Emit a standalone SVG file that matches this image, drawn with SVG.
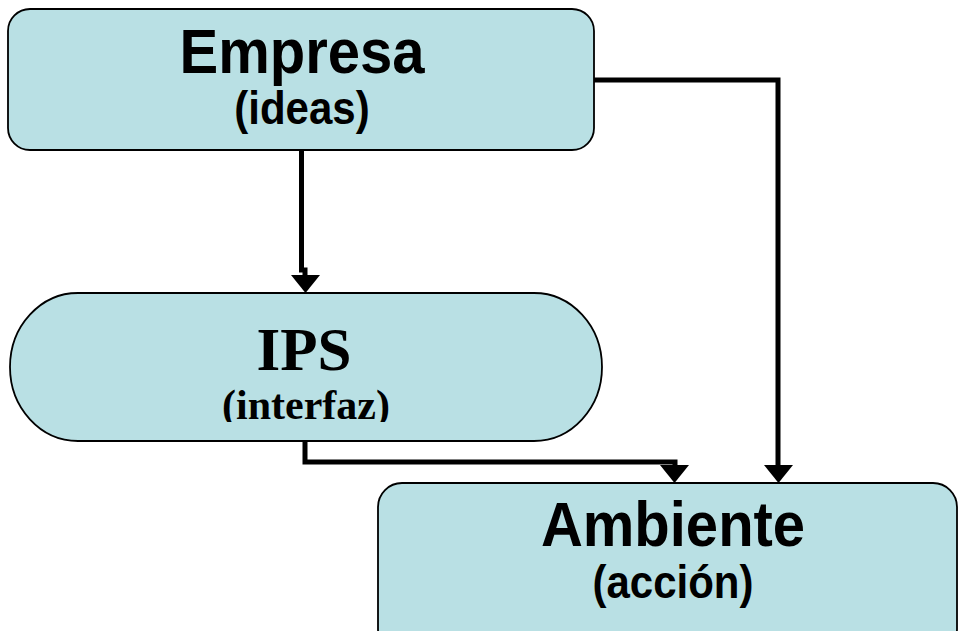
<svg xmlns="http://www.w3.org/2000/svg" width="959" height="631" viewBox="0 0 959 631">
<defs>
<style>
.box{fill:#B9E0E4;stroke:#000;stroke-width:1.8}
.wire{fill:none;stroke:#000;stroke-width:5}
.head{fill:#000}
.sans{font-family:"Liberation Sans",Arial,sans-serif;font-weight:bold;text-anchor:middle;fill:#000}
.serif{font-family:"Liberation Serif","Times New Roman",serif;font-weight:bold;text-anchor:middle;fill:#000}
</style>
<clipPath id="ipsclip"><rect x="0" y="280" width="620" height="142"/></clipPath>
</defs>
<rect width="959" height="631" fill="#fff"/>
<g id="connectors">
<polyline class="wire" points="301.5,150 301.5,270 305,270 305,278"/>
<polygon class="head" points="291,275 320,275 305.5,293"/>
<polyline class="wire" points="594,80 778,80 778,468"/>
<polygon class="head" points="764,465 793,465 778.5,483"/>
<polyline class="wire" points="305,441 305,462 675,462 675,468"/>
<polygon class="head" points="660,465 689,465 674.5,483"/>
</g>
<g id="empresa">
<rect class="box" x="8" y="9" width="586" height="141" rx="22"/>
<text class="sans" transform="translate(302,73) scale(1,1.08)" font-size="58">Empresa</text>
<text class="sans" transform="translate(302,124) scale(1,1.08)" font-size="42">(ideas)</text>
</g>
<g id="ips">
<rect class="box" x="10" y="293" width="592" height="148" rx="68" ry="74"/>
<text class="serif" x="304" y="370" font-size="61">IPS</text>
<g clip-path="url(#ipsclip)"><text class="serif" x="306" y="419" font-size="42">(interfaz)</text></g>
</g>
<g id="ambiente">
<rect class="box" x="378" y="483" width="579" height="170" rx="24"/>
<text class="sans" transform="translate(673,546) scale(1,1.08)" font-size="58">Ambiente</text>
<text class="sans" transform="translate(673,598) scale(1,1.08)" font-size="42">(acción)</text>
</g>
</svg>
